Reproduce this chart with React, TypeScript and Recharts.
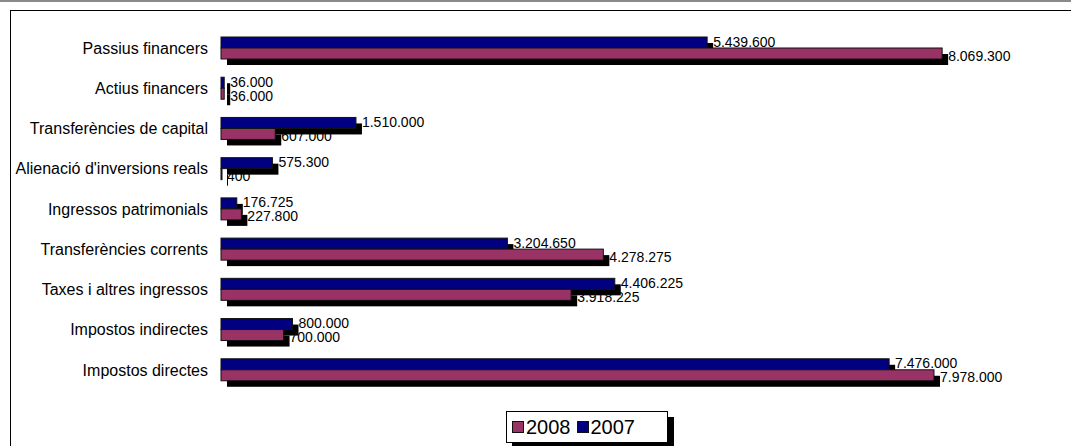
import { BarChart, Bar, XAxis, YAxis, Legend, LabelList } from "recharts";

const categories = [
  "Passius financers",
  "Actius financers",
  "Transferències de capital",
  "Alienació d'inversions reals",
  "Ingressos patrimonials",
  "Transferències corrents",
  "Taxes i altres ingressos",
  "Impostos indirectes",
  "Impostos directes",
];

const values2007 = [5439600, 36000, 1510000, 575300, 176725, 3204650, 4406225, 800000, 7476000];
const values2008 = [8069300, 36000, 607000, 400, 227800, 4278275, 3918225, 700000, 7978000];

const NAVY = "#000080";
const MAROON = "#993366";
const FONT = "'Liberation Sans', Arial, sans-serif";

const data = categories.map((name, i) => ({
  name,
  y2007: values2007[i],
  y2008: values2008[i],
}));

const fmt = (v: number) => String(v).replace(/\B(?=(\d{3})+(?!\d))/g, ".");

const shadowBar = (color: string) => (props: any) => {
  const { x, y, width, height } = props;
  return (
    <g>
      <rect x={x + 6} y={y + 6} width={Math.max(width, 1)} height={height} fill="#000" />
      <rect x={x} y={y} width={Math.max(width, 1)} height={height} fill={color} stroke="#111" strokeWidth={1} />
    </g>
  );
};

const valueLabel = (dy: number) => (props: any) => {
  const { x, y, width, height, value } = props;
  return (
    <text
      x={x + width + 6}
      y={y + height / 2 + dy}
      fontSize={14}
      fontFamily={FONT}
      fill="#000"
      dominantBaseline="central"
    >
      {fmt(value)}
    </text>
  );
};

const LegendBox = () => (
  <div style={{ position: "relative", width: 162, height: 32 }}>
    <div style={{ position: "absolute", left: 6, top: 6, width: 162, height: 32, background: "#000" }} />
    <div
      style={{
        position: "absolute",
        left: 0,
        top: 0,
        width: 160,
        height: 30,
        background: "#fff",
        border: "1px solid #000",
        display: "flex",
        alignItems: "center",
        fontFamily: FONT,
        fontSize: 20,
        color: "#000",
      }}
    >
      {[
        { label: "2008", color: MAROON },
        { label: "2007", color: NAVY },
      ].map((it, i) => (
        <span key={it.label} style={{ display: "flex", alignItems: "center", marginLeft: i === 0 ? 5 : 6 }}>
          <span style={{ width: 10, height: 10, background: it.color, border: "1px solid #111", marginRight: 2 }} />
          {it.label}
        </span>
      ))}
    </div>
  </div>
);

export default function App() {
  return (
    <div style={{ position: "absolute", left: 0, top: 0, width: 1071, height: 446, overflow: "hidden", background: "#fff" }}>
      <div style={{ position: "absolute", left: 0, top: 0, width: 1071, height: 2, background: "#8a8a8a" }} />
      <div style={{ position: "absolute", left: 10, top: 10, width: 1200, height: 600, border: "1px solid #000" }} />
      <div style={{ position: "absolute", left: 0, top: 0 }}>
        <BarChart
          width={1071}
          height={446}
          data={data}
          layout="vertical"
          margin={{ top: 28, right: 43, bottom: 56, left: 0 }}
          barGap={0}
          barSize={11}
        >
          <XAxis type="number" domain={[0, 9030000]} hide />
          <YAxis
            type="category"
            dataKey="name"
            width={221}
            tickLine={false}
            axisLine={false}
            tickSize={0}
            tickMargin={13}
            interval={0}
            tick={{ fill: "#000", fontSize: 16, fontFamily: FONT }}
          />
          <Legend
            layout="horizontal"
            verticalAlign="middle"
            align="center"
            wrapperStyle={{ position: "absolute", left: 506, top: 411, width: 170, height: 40 }}
            content={() => <LegendBox />}
          />
          <Bar dataKey="y2007" name="2007" fill={NAVY} isAnimationActive={false} shape={shadowBar(NAVY)}>
            <LabelList dataKey="y2007" content={valueLabel(-1)} />
          </Bar>
          <Bar dataKey="y2008" name="2008" fill={MAROON} isAnimationActive={false} shape={shadowBar(MAROON)}>
            <LabelList dataKey="y2008" content={valueLabel(2)} />
          </Bar>
        </BarChart>
      </div>
    </div>
  );
}
